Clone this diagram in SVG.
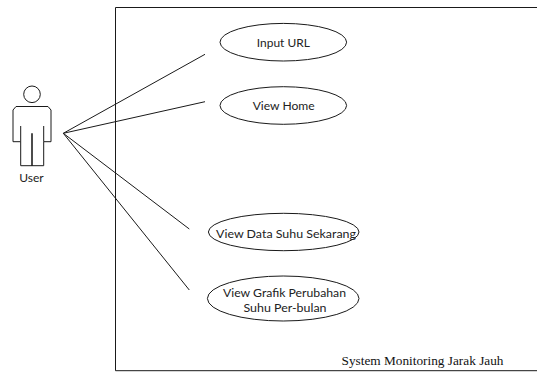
<svg xmlns="http://www.w3.org/2000/svg" width="537" height="372" viewBox="0 0 537 372">
<style>
.s{fill:none;stroke:#1a1a1a;stroke-width:1}
.e{fill:#fff;stroke:#1a1a1a;stroke-width:1}
.t{font-family:Lato,"Open Sans",sans-serif;font-size:12px;fill:#222;text-anchor:middle}
.b{font-family:"Liberation Serif",serif;font-size:12.500px;fill:#111}
</style>
<rect width="537" height="372" fill="#fff"/>
<g id="boundary"><path class="s" d="M537 7.500H115.500V370.700H537" stroke-width="1.200"/><text class="b" x="341.500" y="365" textLength="162" lengthAdjust="spacingAndGlyphs">System Monitoring Jarak Jauh</text></g>
<g id="connectors">
<line class="s" x1="63.300" y1="133.300" x2="205" y2="54.300"/>
<line class="s" x1="63.300" y1="133.300" x2="205" y2="101.700"/>
<line class="s" x1="63.300" y1="133.300" x2="189.300" y2="229"/>
<line class="s" x1="63.300" y1="133.300" x2="189.300" y2="290"/>
</g>
<g id="user">
<circle class="s" cx="32" cy="94.300" r="8.300"/>
<path class="s" d="M16 106.500H48L51 110V141.700H43.700V165.700H20.700V141.700H13V110Z"/>
<path class="s" d="M20.700 126V141.700M43.700 126V141.700"/>
<path d="M32 133.300V165.700" fill="none" stroke="#111" stroke-width="1.500"/>
<text class="t" x="31.500" y="182">User</text>
</g>
<g id="input-url"><ellipse class="e" cx="283.300" cy="42.200" rx="63.300" ry="18.800"/><text class="t" x="283.300" y="47" textLength="53" lengthAdjust="spacingAndGlyphs">Input URL</text></g>
<g id="view-home"><ellipse class="e" cx="283.300" cy="105.500" rx="63.300" ry="18.800"/><text class="t" x="283.700" y="110" textLength="62" lengthAdjust="spacingAndGlyphs">View Home</text></g>
<g id="view-data"><ellipse class="e" cx="283.700" cy="232" rx="75.300" ry="18.700"/><text class="t" x="286" y="238" textLength="140" lengthAdjust="spacingAndGlyphs">View Data Suhu Sekarang</text></g>
<g id="view-grafik"><ellipse class="e" cx="283.200" cy="298.500" rx="75.800" ry="22.500"/><text class="t" x="284.500" y="296.700" textLength="123" lengthAdjust="spacingAndGlyphs">View Grafik Perubahan</text><text class="t" x="285" y="311.700" textLength="83" lengthAdjust="spacingAndGlyphs">Suhu Per-bulan</text></g>
</svg>
